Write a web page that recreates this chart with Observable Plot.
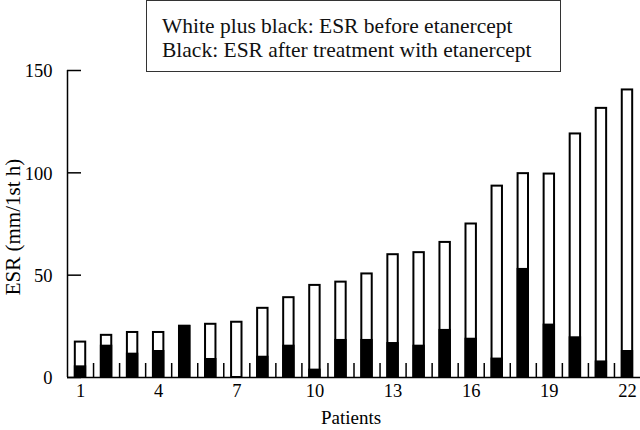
<!DOCTYPE html>
<html>
<head>
<meta charset="utf-8">
<script src="https://cdn.jsdelivr.net/npm/d3@7"></script>
<script src="https://cdn.jsdelivr.net/npm/@observablehq/plot@0.6"></script>
<style>
  html, body { margin: 0; padding: 0; background: white; }
  #wrap { position: relative; width: 640px; height: 430px; overflow: hidden; }
  #legend {
    position: absolute; left: 146px; top: 0px; width: 415px; height: 72px;
    border: 1.5px solid #333; background: white; box-sizing: border-box;
    font-family: "Liberation Serif", "Times New Roman", serif; font-size: 21.5px;
    line-height: 24px; padding: 13px 0 0 15px; color: #111; white-space: nowrap;
  }
</style>
</head>
<body>
<div id="wrap">
  <div id="chart"></div>
  <div id="legend">White plus black: ESR before etanercept<br>Black: ESR after treatment with etanercept</div>
</div>
<script>
const patients = [1,2,3,4,5,6,7,8,9,10,11,12,13,14,15,16,17,18,19,20,21,22];
const esrBefore = [17.3, 20.6, 22, 22, 25, 26, 27, 33.8, 39, 45, 46.6, 50.6, 60, 61, 66, 75, 93.5, 99.6, 99.4, 119, 131.5, 140.5];
const esrAfter = [5.2, 15.3, 11.4, 12.7, 25, 8.8, 0, 9.9, 15.3, 3.6, 18.1, 18.1, 16.6, 15.3, 23, 18.7, 9, 52.8, 25.6, 19.4, 7.6, 12.7];
const xTickLabels = [1, 4, 7, 10, 13, 16, 19, 22];
const xMinorTicks = patients.slice(0, -1).map(p => p + 0.5);
const yTicks = [0, 50, 100, 150];

const data = patients.map((p, i) => ({p, before: esrBefore[i], after: esrAfter[i]}));
const hw = 0.2;

const chart = Plot.plot({
  width: 640,
  height: 430,
  marginLeft: 67,
  marginRight: 0,
  marginTop: 70,
  marginBottom: 53,
  style: {fontFamily: "Liberation Serif, Times New Roman, serif", fontSize: "18px", color: "black", background: "white"},
  x: {domain: [0.5, 22.5], axis: null},
  y: {domain: [0, 150], axis: null},
  marks: [
    Plot.rectY(data, {x1: d => d.p - hw, x2: d => d.p + hw, y1: 0, y2: "before", fill: "white", stroke: "black", strokeWidth: 2}),
    Plot.rectY(data, {x1: d => d.p - hw, x2: d => d.p + hw, y1: 0, y2: "after", fill: "black", stroke: "black", strokeWidth: 2}),
    Plot.ruleY([0], {stroke: "black", strokeWidth: 1.5}),
    Plot.ruleX([0.5], {y1: 0, y2: 150, stroke: "black", strokeWidth: 1.5}),
    Plot.axisX(xMinorTicks, {tickSize: -14, tickFormat: () => "", strokeWidth: 1.5, label: null}),
    Plot.axisY(yTicks, {tickSize: -14, tickFormat: () => "", strokeWidth: 1.5, label: null}),
    Plot.text(xTickLabels, {x: d => d, frameAnchor: "bottom", lineAnchor: "top", dy: 6, fontSize: 18.5, fill: "black"}),
    Plot.text(yTicks, {y: d => d, frameAnchor: "left", textAnchor: "end", dx: -15, dy: 1, fontSize: 18.5, fill: "black"}),
    Plot.text(["Patients"], {frameAnchor: "bottom", dy: 46, dx: -3, fontSize: 19, fill: "black"}),
    Plot.text(["ESR (mm/1st h)"], {frameAnchor: "left", textAnchor: "middle", rotate: -90, dx: -54, dy: 3, fontSize: 21, fill: "black"})
  ]
});
document.getElementById("chart").appendChild(chart);
</script>
</body>
</html>
